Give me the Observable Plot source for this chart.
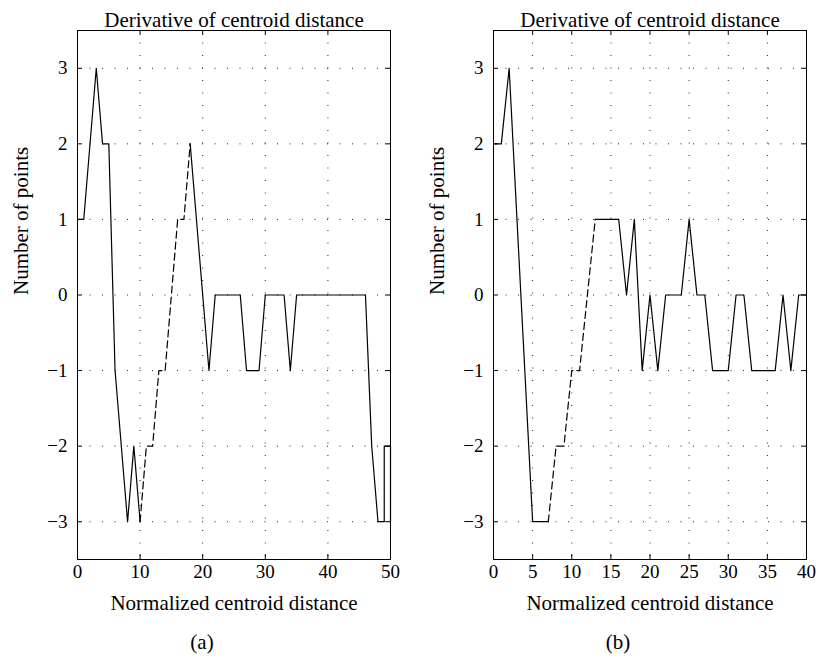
<!DOCTYPE html>
<html>
<head>
<meta charset="utf-8">
<script src="https://cdn.jsdelivr.net/npm/d3@7"></script>
<script src="https://cdn.jsdelivr.net/npm/@observablehq/plot@0.6"></script>
<style>
  html, body { margin: 0; padding: 0; background: #fff; }
  #wrap { width: 816px; height: 663px; display: flex; }
  #wrap svg { display: block; font-family: 'Liberation Serif', 'DejaVu Serif', serif !important; }
</style>
</head>
<body>
<div id="wrap"></div>
<script>
// ---- data ----
const titleText = "Derivative of centroid distance";
const xLabelText = "Normalized centroid distance";
const yLabelText = "Number of points";
const captions = ["(a)", "(b)"];

const yTicks = [-3, -2, -1, 0, 1, 2, 3];
const xTicksA = [0, 10, 20, 30, 40, 50];
const xTicksB = [0, 5, 10, 15, 20, 25, 30, 35, 40];

// panel (a)
const aSolid1 = [[0,1],[1,1],[3,3],[4,2],[5,2],[6,-1],[8,-3],[9,-2],[10,-3]];
const aDashed = [[10,-3],[11,-2],[12,-2],[13,-1],[14,-1],[16,1],[17,1],[18,2]];
const aSolid2 = [[18,2],[21,-1],[22,0],[26,0],[27,-1],[29,-1],[30,0],[33,0],[34,-1],[35,0],[46,0],[47,-2],[48,-3],[49,-3],[49,-2],[50,-2],[50,-3]];

// panel (b)
const bSolid1 = [[0,2],[1,2],[2,3],[5,-3],[7,-3]];
const bDashed = [[7,-3],[8,-2],[9,-2],[10,-1],[11,-1],[13,1]];
const bSolid2 = [[13,1],[16,1],[17,0],[18,1],[19,-1],[20,0],[21,-1],[22,0],[24,0],[25,1],[26,0],[27,0],[28,-1],[30,-1],[31,0],[32,0],[33,-1],[36,-1],[37,0],[38,-1],[39,0],[40,0]];

// ---- drawing ----
const FONT = "Liberation Serif";
const fmt = d => d < 0 ? "\u2212" + (-d) : String(d);

function panel({xDomain, xTicks, segs, dashed, caption, marginLeft, marginRight}) {
  const W = 408, H = 663, mt = 30, mb = 104;
  const fw = W - marginLeft - marginRight, fh = H - mt - mb;
  const tick = 5;
  const xin = xTicks.filter(d => d !== xDomain[0] && d !== xDomain[1]);
  const yin = yTicks;
  const grid = {stroke: "#222", strokeWidth: 1, strokeDasharray: "1,11.5"};
  const txt = {fill: "#000", fontFamily: FONT};
  return Plot.plot({
    width: W, height: H,
    marginLeft, marginRight, marginTop: mt, marginBottom: mb,
    x: {domain: xDomain, axis: null},
    y: {domain: [-3.5, 3.5], axis: null},
    style: {fontFamily: FONT, background: "#fff", color: "#000"},
    marks: [
      // dotted grid
      Plot.ruleX(xin, {x: d => d, ...grid}),
      Plot.ruleY(yin, {y: d => d, ...grid}),
      // inward ticks
      Plot.ruleX(xin, {x: d => d, insetTop: fh - tick, stroke: "#000"}),
      Plot.ruleX(xin, {x: d => d, insetBottom: fh - tick, stroke: "#000"}),
      Plot.ruleY(yin, {y: d => d, insetRight: fw - tick, stroke: "#000"}),
      Plot.ruleY(yin, {y: d => d, insetLeft: fw - tick, stroke: "#000"}),
      // data
      ...segs.map(s => Plot.line(s, {x: d => d[0], y: d => d[1], stroke: "#000", strokeWidth: 1.2})),
      Plot.line(dashed, {x: d => d[0], y: d => d[1], stroke: "#000", strokeWidth: 1.2, strokeDasharray: "7,4"}),
      Plot.frame({stroke: "#000", strokeWidth: 1}),
      // tick labels
      Plot.text(xTicks, {x: d => d, frameAnchor: "bottom", dy: 18, text: fmt, fontSize: 19, ...txt}),
      Plot.text(yTicks, {y: d => d, frameAnchor: "left", dx: -10, textAnchor: "end", text: fmt, fontSize: 19, ...txt}),
      // title / labels
      Plot.text([titleText], {frameAnchor: "top", dy: -18, text: d => d, fontSize: 21, ...txt}),
      Plot.text([xLabelText], {frameAnchor: "bottom", dy: 50, text: d => d, fontSize: 21, ...txt}),
      Plot.text([caption], {frameAnchor: "bottom", dy: 89, dx: -32, text: d => d, fontSize: 21, ...txt}),
      Plot.text([yLabelText], {frameAnchor: "left", dx: -56, rotate: -90, text: d => d, fontSize: 21, ...txt})
    ]
  });
}

const wrap = document.getElementById("wrap");
wrap.append(panel({xDomain: [0, 50], xTicks: xTicksA, segs: [aSolid1, aSolid2], dashed: aDashed, caption: captions[0], marginLeft: 77, marginRight: 18}));
wrap.append(panel({xDomain: [0, 40], xTicks: xTicksB, segs: [bSolid1, bSolid2], dashed: bDashed, caption: captions[1], marginLeft: 85, marginRight: 10}));
</script>
</body>
</html>
